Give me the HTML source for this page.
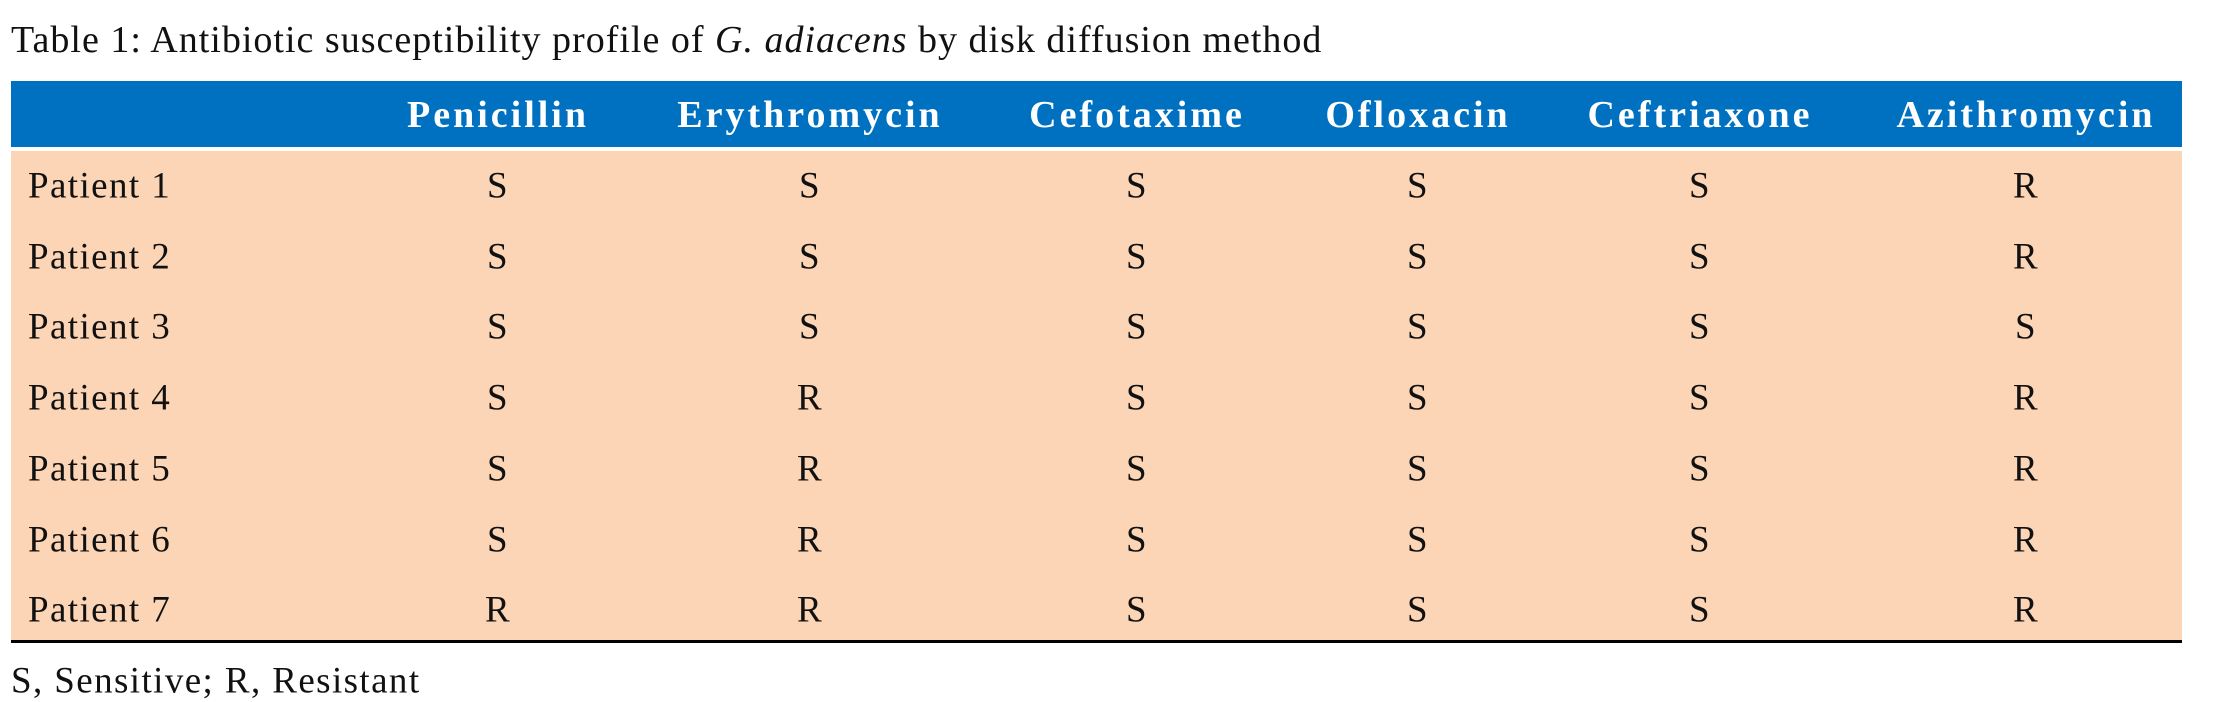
<!DOCTYPE html>
<html><head><style>
body{margin:0;width:2214px;height:696px;background:#fff;position:relative;overflow:hidden;font-family:"Liberation Serif",serif;color:#111}
.t{position:absolute;white-space:nowrap;line-height:1;transform:translate(-50%,-50%)}
.l{position:absolute;white-space:nowrap;line-height:1;transform:translateY(-50%)}
#hdr{position:absolute;left:11px;top:81px;width:2171px;height:66px;background:#0070c0}
#body{position:absolute;left:11px;top:151px;width:2171px;height:490px;background:#fbd5b5}
#line{position:absolute;left:11px;top:640px;width:2171px;height:3px;background:#000}
.h{color:#fff;font-weight:bold;font-size:38px;letter-spacing:3px}
.c{font-size:37px;letter-spacing:1.4px}
</style></head><body>
<div class="l" style="left:11px;top:40px;font-size:38px;letter-spacing:1px">Table 1: Antibiotic susceptibility profile of <i>G. adiacens</i> by disk diffusion method</div>
<div id="hdr"></div><div id="body"></div><div id="line"></div>
<div class="t h" style="left:498px;top:115px">Penicillin</div>
<div class="t h" style="left:810px;top:115px">Erythromycin</div>
<div class="t h" style="left:1137px;top:115px">Cefotaxime</div>
<div class="t h" style="left:1418px;top:115px">Ofloxacin</div>
<div class="t h" style="left:1700px;top:115px">Ceftriaxone</div>
<div class="t h" style="left:2026px;top:115px">Azithromycin</div>
<div id="rows"></div>
<script>
var d=[["S","S","S","S","S","R"],["S","S","S","S","S","R"],["S","S","S","S","S","S"],["S","R","S","S","S","R"],["S","R","S","S","S","R"],["S","R","S","S","S","R"],["R","R","S","S","S","R"]];
var xs=[498,810,1137,1418,1700,2026],h="";
d.forEach(function(r,i){var y=186+i*70.7;
h+='<div class="l c" style="left:28px;top:'+y+'px">Patient '+(i+1)+'</div>';
r.forEach(function(v,j){h+='<div class="t c" style="left:'+xs[j]+'px;top:'+y+'px">'+v+'</div>';});});
document.getElementById('rows').innerHTML=h;
</script>
<div class="l" style="left:11px;top:681px;font-size:37px;letter-spacing:1.4px">S, Sensitive; R, Resistant</div>
</body></html>
